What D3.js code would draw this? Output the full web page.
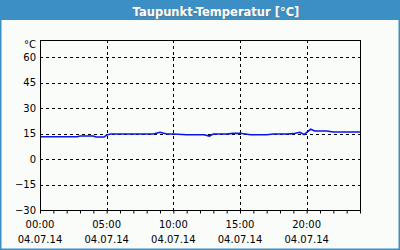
<!DOCTYPE html>
<html>
<head>
<meta charset="utf-8">
<script src="https://cdn.jsdelivr.net/npm/d3@7"></script>
<style>
  body { margin: 0; padding: 0; background: #fff; }
  svg { display: block; }
</style>
</head>
<body>
<div id="chart"></div>
<script>
// Taupunkt-Temperatur, 04.07.14
const hours = [0, 1, 2, 2.8, 3, 4, 4.2, 4.8, 5, 5.3, 6, 7, 8, 8.5, 9, 9.5, 10, 11, 12.3, 12.7,
               13, 14, 14.5, 15, 15.8, 17, 17.5, 18.5, 19, 19.5, 19.8, 20.3, 20.6, 21.5, 22, 24];
const dewPoint = [13.1, 13.1, 13.1, 13.1, 13.5, 13.5, 12.9, 12.9, 14.1, 14.7, 14.7, 14.7, 14.7, 14.7, 15.7, 14.7, 14.7, 14.3, 14.3, 13.5,
                  14.7, 14.7, 15.1, 15.1, 14.3, 14.3, 14.7, 14.7, 14.9, 15.7, 14.4, 17.5, 16.5, 16.5, 15.9, 15.9];
const yTicks = [60, 45, 30, 15, 0, -15, -30];
const xTicks = [0, 5, 10, 15, 20];
const xTimeLabels = ["00:00", "05:00", "10:00", "15:00", "20:00"];
const xDateLabels = ["04.07.14", "04.07.14", "04.07.14", "04.07.14", "04.07.14"];
const title = "Taupunkt-Temperatur [°C]";

const W = 400, H = 250;
const margin = {top: 40, right: 40, bottom: 40, left: 40};
const width = W - margin.left - margin.right,
      height = H - margin.top - margin.bottom;

const svg = d3.select("#chart").append("svg")
    .attr("width", W)
    .attr("height", H)
    .style("font-family", "'DejaVu Sans', sans-serif");

// frame + title bar
svg.append("rect")
    .attr("x", 0.5).attr("y", 0.5)
    .attr("width", W - 1).attr("height", H - 1)
    .attr("fill", "#fafcfa")
    .attr("stroke", "#3c8fc4")
    .attr("stroke-width", 2);

svg.append("rect")
    .attr("x", 0).attr("y", 0)
    .attr("width", W).attr("height", 20)
    .attr("fill", "#3c8fc4");

svg.append("text")
    .attr("x", 216).attr("y", 15.5)
    .attr("text-anchor", "middle")
    .attr("font-size", 11.5)
    .attr("font-weight", "bold")
    .attr("fill", "#6a6a6a")
    .attr("transform", "translate(1,1)")
    .attr("opacity", 0.5)
    .text(title);

svg.append("text")
    .attr("x", 216).attr("y", 15.5)
    .attr("text-anchor", "middle")
    .attr("font-size", 11.5)
    .attr("font-weight", "bold")
    .attr("fill", "#ffffff")
    .text(title);

const g = svg.append("g")
    .attr("transform", "translate(" + margin.left + "," + margin.top + ")");

// scales
const x = d3.scaleLinear().domain([0, 24]).range([0, width]);
const y = d3.scaleLinear().domain([-30, 70]).range([height, 0]);

// grid lines
g.selectAll(".hgrid")
    .data(yTicks.filter(d => d > -30))
    .enter().append("line")
    .attr("class", "hgrid")
    .attr("x1", 0).attr("x2", width)
    .attr("y1", d => Math.round(y(d)) + 0.5)
    .attr("y2", d => Math.round(y(d)) + 0.5)
    .attr("stroke", "#000")
    .attr("stroke-dasharray", "3,3");

g.selectAll(".vgrid")
    .data(xTicks.filter(d => d > 0))
    .enter().append("line")
    .attr("class", "vgrid")
    .attr("x1", d => Math.round(x(d)) + 0.5)
    .attr("x2", d => Math.round(x(d)) + 0.5)
    .attr("y1", 0).attr("y2", height)
    .attr("stroke", "#000")
    .attr("stroke-dasharray", "3,3");

// data line
const line = d3.line()
    .x(d => x(d[0]))
    .y(d => y(d[1]));

g.append("path")
    .datum(hours.map((h, i) => [h, dewPoint[i]]))
    .attr("d", line)
    .attr("fill", "none")
    .attr("stroke", "#0a14e6")
    .attr("stroke-width", 1.6);

// plot box
g.append("rect")
    .attr("x", 0.5).attr("y", 0.5)
    .attr("width", width).attr("height", height)
    .attr("fill", "none")
    .attr("stroke", "#000");

// hour ticks on the bottom axis
const xAxis = d3.axisBottom(x)
    .tickValues(d3.range(0, 25))
    .tickSize(3)
    .tickFormat("");

g.append("g")
    .attr("class", "x-axis")
    .attr("transform", "translate(0," + (height + 0.5) + ")")
    .call(xAxis)
    .call(s => s.select(".domain").remove())
    .selectAll("line").attr("stroke", "#000");

// y labels
const yAxis = d3.axisLeft(y)
    .tickValues(yTicks)
    .tickSize(0)
    .tickPadding(4);

g.append("g")
    .attr("class", "y-axis")
    .call(yAxis)
    .call(s => s.select(".domain").remove())
    .selectAll("text")
    .attr("font-family", "'DejaVu Sans', sans-serif")
    .attr("font-size", 10)
    .attr("fill", "#000");

g.append("text")
    .attr("x", -4).attr("y", 8)
    .attr("text-anchor", "end")
    .attr("font-size", 10)
    .attr("fill", "#000")
    .text("°C");

// x labels (time + date)
const xl = g.selectAll(".x-label")
    .data(xTicks)
    .enter().append("g")
    .attr("class", "x-label")
    .attr("transform", d => "translate(" + x(d) + "," + height + ")");

xl.append("text")
    .attr("y", 18)
    .attr("text-anchor", "middle")
    .attr("font-size", 10)
    .attr("fill", "#000")
    .text((d, i) => xTimeLabels[i]);

xl.append("text")
    .attr("y", 33)
    .attr("text-anchor", "middle")
    .attr("font-size", 10)
    .attr("fill", "#000")
    .text((d, i) => xDateLabels[i]);
</script>
</body>
</html>
